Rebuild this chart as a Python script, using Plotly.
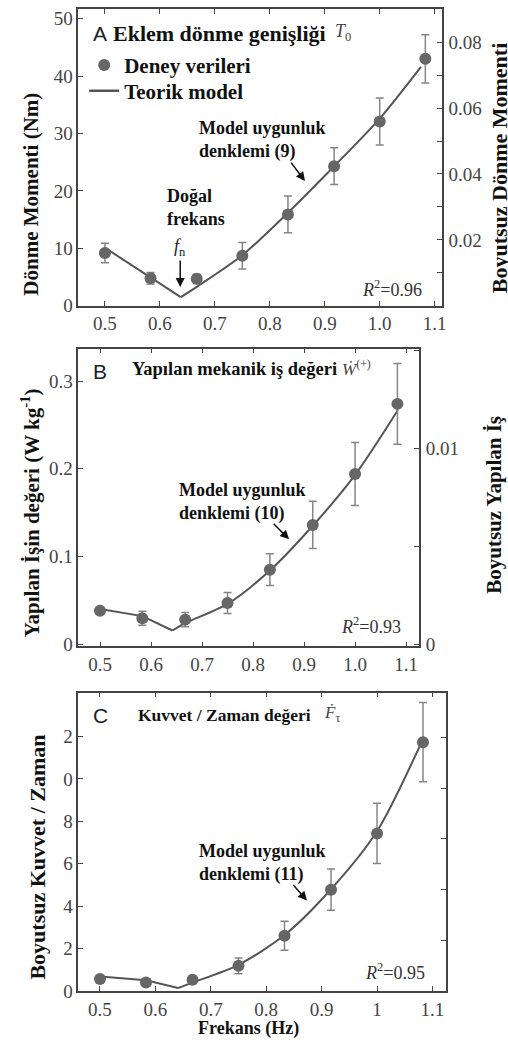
import plotly.graph_objects as go

W, H = 508, 1052

# ---------------- data ----------------
freq = [0.5, 0.583, 0.667, 0.75, 0.833, 0.917, 1.0, 1.083]

# Panel A: joint torque amplitude (Nm)
torque = [9.2, 4.8, 4.7, 8.7, 15.9, 24.3, 32.1, 43.0]
torque_err = [1.7, 1.0, 0.8, 2.3, 3.2, 3.2, 4.1, 4.2]
model_a_x = [0.5, 0.583, 0.638, 0.667, 0.75, 0.833, 0.917, 1.0, 1.075]
model_a_y = [10.1, 5.0, 1.5, 3.3, 8.8, 16.2, 24.3, 32.6, 41.6]

# Panel B: positive mechanical work rate (W/kg)
work = [0.038, 0.0295, 0.028, 0.047, 0.085, 0.136, 0.194, 0.274]
work_err = [0.002, 0.008, 0.008, 0.012, 0.018, 0.027, 0.036, 0.046]
model_b_x = [0.5, 0.583, 0.642, 0.667, 0.75, 0.833, 0.917, 1.0, 1.084]
model_b_y = [0.040, 0.032, 0.0156, 0.024, 0.046, 0.084, 0.135, 0.193, 0.267]

# Panel C: dimensionless force rate
force = [0.57, 0.41, 0.54, 1.19, 2.61, 4.78, 7.43, 11.73]
force_err = [0.1, 0.1, 0.1, 0.37, 0.68, 0.97, 1.42, 1.87]
model_c_x = [0.5, 0.583, 0.641, 0.667, 0.75, 0.833, 0.917, 1.0, 1.079]
model_c_y = [0.69, 0.51, 0.15, 0.40, 1.24, 2.64, 4.8, 7.53, 11.65]

x_ticks = [0.5, 0.6, 0.7, 0.8, 0.9, 1.0, 1.1]
x_text_ab = ["0.5", "0.6", "0.7", "0.8", "0.9", "1.0", "1.1"]
x_text_c = ["0.5", "0.6", "0.7", "0.8", "0.9", "1", "1.1"]
ya_ticks = [0, 10, 20, 30, 40, 50]
ya2_ticks = [0.01, 0.02, 0.03, 0.04, 0.05, 0.06, 0.07, 0.08]
ya2_text = ["", "0.02", "", "0.04", "", "0.06", "", "0.08"]
yb_ticks = [0, 0.1, 0.2, 0.3]
yb_text = ["0", "0.1", "0.2", "0.3"]
yb2_ticks = [0, 0.005, 0.01, 0.015]
yb2_text = ["0", "", "0.01", ""]
yc_ticks = [0, 2, 4, 6, 8, 10, 12]
yc_text = ["0", "2", "4", "6", "8", "0", "2"]
yc2_ticks = [1, 2, 3, 4, 5]

# ---------------- style ----------------
SERIF = "Liberation Serif"
SANS = "Liberation Sans"
MARK = "#666666"
ERR = "#858585"
LINE = "#555555"
FRAME = "#444444"
TICKC = "#444444"


def px(x):
    return x / W


def py(y):
    return 1 - y / H


fig = go.Figure()


def add_panel(xa, ya, yright, yv, ye, mx, my, legend):
    k = my.index(min(my))
    fig.add_trace(go.Scatter(
        x=mx[:k + 1], y=my[:k + 1], mode="lines", xaxis=xa, yaxis=ya,
        line=dict(color=LINE, width=2), showlegend=False, hoverinfo="skip"))
    fig.add_trace(go.Scatter(
        x=mx[k:], y=my[k:], mode="lines", xaxis=xa, yaxis=ya,
        line=dict(color=LINE, width=2, shape="spline", smoothing=0.8),
        name="Teorik model", showlegend=False))
    fig.add_trace(go.Scatter(
        x=freq, y=yv, mode="markers", xaxis=xa, yaxis=ya,
        marker=dict(color=MARK, size=12, symbol="circle"),
        error_y=dict(type="data", array=ye, color=ERR, thickness=1.5, width=4),
        name="Deney verileri", showlegend=legend, legend="legend"))
    if legend:
        fig.add_trace(go.Scatter(
            x=[None], y=[None], mode="lines", xaxis=xa, yaxis=ya,
            line=dict(color=LINE, width=2.5), name="Teorik model",
            showlegend=True, legend="legend2"))
    # empty trace so that the secondary (dimensionless) axis is drawn
    fig.add_trace(go.Scatter(x=[None], y=[None], mode="markers", xaxis=xa,
                             yaxis=yright, showlegend=False, hoverinfo="skip"))


add_panel("x", "y", "y2", torque, torque_err, model_a_x, model_a_y, True)
add_panel("x2", "y3", "y4", work, work_err, model_b_x, model_b_y, False)
add_panel("x3", "y5", "y6", force, force_err, model_c_x, model_c_y, False)

tickfont = dict(family=SERIF, size=19, color=TICKC)
common_x = dict(showline=True, linecolor=FRAME, linewidth=1.5, mirror="ticks",
                ticks="inside", ticklen=5, tickcolor=FRAME, tickwidth=1.2,
                showgrid=False, zeroline=False, tickfont=tickfont,
                tickvals=x_ticks)
common_y = dict(showline=True, linecolor=FRAME, linewidth=1.5, mirror=True,
                ticks="inside", ticklen=5, tickcolor=FRAME, tickwidth=1.2,
                showgrid=False, zeroline=False, tickfont=tickfont)
common_y2 = dict(side="right", ticks="inside", ticklen=5, tickcolor=FRAME,
                 tickwidth=1.2, showgrid=False, zeroline=False, showline=False,
                 tickfont=tickfont, ticklabelstandoff=6)

legfont = dict(family=SERIF, size=21, color="#111111", weight="bold")

fig.update_layout(
    width=W, height=H, margin=dict(l=0, r=0, t=0, b=0),
    paper_bgcolor="white", plot_bgcolor="white",
    showlegend=True,
    legend=dict(x=px(85), y=py(66), xanchor="left", yanchor="middle",
                font=legfont, bgcolor="rgba(0,0,0,0)", itemwidth=30),
    legend2=dict(x=px(85), y=py(92), xanchor="left", yanchor="middle",
                 font=legfont, bgcolor="rgba(0,0,0,0)", itemwidth=30),
    # Panel A
    xaxis=dict(domain=[px(79), px(446)], range=[0.4514, 1.1126], anchor="y",
               ticktext=x_text_ab, **common_x),
    yaxis=dict(domain=[py(309), py(9)], range=[0, 51.7], anchor="x",
               tickvals=ya_ticks, **common_y),
    yaxis2=dict(overlaying="y", anchor="x", range=[0, 0.0901],
                tickvals=ya2_ticks, ticktext=ya2_text, **common_y2),
    # Panel B
    xaxis2=dict(domain=[px(79), px(423)], range=[0.4573, 1.125], anchor="y3",
                ticktext=x_text_ab, **common_x),
    yaxis3=dict(domain=[py(653.3), py(352.3)], range=[-0.0026, 0.337], anchor="x2",
                tickvals=yb_ticks, ticktext=yb_text, **common_y),
    yaxis4=dict(overlaying="y3", anchor="x2", range=[-0.00012, 0.01509],
                tickvals=yb2_ticks, ticktext=yb2_text, **common_y2),
    # Panel C
    xaxis3=dict(domain=[px(79), px(450.7)], range=[0.4607, 1.125], anchor="y5",
                ticktext=x_text_c, **common_x),
    yaxis5=dict(domain=[py(1001.6), py(700)], range=[0, 14.06], anchor="x3",
                tickvals=yc_ticks, ticktext=yc_text, **common_y),
    yaxis6=dict(overlaying="y5", anchor="x3", range=[0, 5.88],
                tickvals=yc2_ticks, showticklabels=False, **common_y2),
)

anns = []


def ann(text, x, y, size=17, family=SERIF, color="#111111", xanchor="left",
        yanchor="middle", angle=0, align="left"):
    anns.append(dict(text=text, x=px(x), y=py(y), xref="paper", yref="paper",
                     xanchor=xanchor, yanchor=yanchor, showarrow=False,
                     textangle=angle, align=align,
                     font=dict(family=family, size=size, color=color)))


def arrow(x, y, ax, ay):
    anns.append(dict(text="", x=px(x), y=py(y), xref="paper", yref="paper",
                     ax=ax, ay=ay, showarrow=True, arrowhead=2, arrowsize=1.2,
                     arrowwidth=1.5, arrowcolor="#111111"))


# Panel A texts
ann("A", 92, 34, size=21, family=SANS, color="#222222")
ann("<b>Eklem dönme genişliği</b>", 112, 34, size=22)
ann("<i>T</i><sub>0</sub>", 336, 33, size=18, color="#444444")
ann("<b>Model uygunluk<br>denklemi (9)</b>", 199, 141, size=18)
arrow(308, 183, -15, -20)
ann("<b>Doğal<br>frekans</b>", 167, 210, size=18)
ann("<i>f</i><sub>n</sub>", 182, 250, size=18, xanchor="center", color="#222222")
arrow(182, 290, 0, -28)
ann("<i>R</i><sup>2</sup>=0.96", 428, 292, size=18, xanchor="right", color="#333333")
ann("<b>Dönme Momenti (Nm)</b>", 31, 196, size=21, xanchor="center", angle=-90)
ann("<b>Boyutsuz Dönme Momenti</b>", 504, 170, size=22, xanchor="center", angle=-90)

# Panel B texts
ann("B", 92, 375, size=21, family=SANS, color="#222222")
ann("<b>Yapılan mekanik iş değeri</b>", 131, 373, size=18.5)
ann("<i>Ẇ</i><sup>(+)</sup>", 343, 372, size=17, color="#444444")
ann("<b>Model uygunluk<br>denklemi (10)</b>", 179, 507, size=18)
arrow(292, 545, -17, -17)
ann("<i>R</i><sup>2</sup>=0.93", 407, 632, size=18, xanchor="right", color="#333333")
ann("<b>Yapılan İşin değeri (W kg<sup>-1</sup>)</b>", 31, 518, size=21,
    xanchor="center", angle=-90)
ann("<b>Boyutsuz Yapılan İş</b>", 499, 510, size=21, xanchor="center", angle=-90)

# Panel C texts
ann("C", 92, 723, size=21, family=SANS, color="#222222")
ann("<b>Kuvvet / Zaman değeri</b>", 137, 723, size=17.5)
ann("<i>Ḟ</i><sub>τ</sub>", 325, 722, size=17, color="#444444")
ann("<b>Model uygunluk<br>denklemi (11)</b>", 199, 872, size=18)
arrow(310, 910, -15, -17)
ann("<i>R</i><sup>2</sup>=0.95", 431, 982, size=18, xanchor="right", color="#333333")
ann("<b>Boyutsuz Kuvvet / Zaman</b>", 38, 866, size=22, xanchor="center", angle=-90)
ann("<b>Frekans (Hz)</b>", 251, 1039, size=18, xanchor="center")

fig.update_layout(annotations=anns)
fig.write_html("out.html")
